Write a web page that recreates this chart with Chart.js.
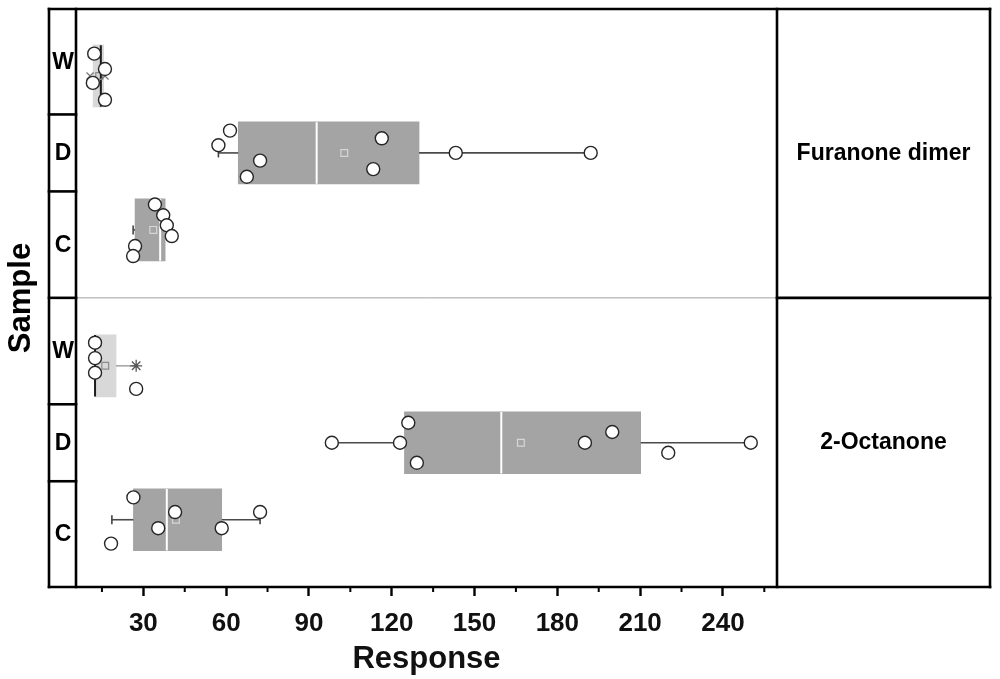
<!DOCTYPE html>
<html><head><meta charset="utf-8">
<script src="https://cdn.jsdelivr.net/npm/chart.js@4.4.0/dist/chart.umd.min.js"></script>
<style>html,body{margin:0;padding:0;background:#fff;}</style>
</head><body>
<canvas id="c" width="1000" height="679"></canvas>
<script>
const compounds = ['Furanone dimer', '2-Octanone'];
const samples = ['W', 'D', 'C'];
const xTickValues = [30, 60, 90, 120, 150, 180, 210, 240];
const xMinorTickValues = [15, 45, 75, 105, 135, 165, 195, 225, 255];
// group order: Furanone W, D, C, then 2-Octanone W, D, C
const boxQ1 = [11.8, 64.4, 27.0, 12.5, 124.6, 26.4];
const boxQ3 = [15.6, 129.9, 37.9, 20.1, 210.2, 58.4];
const boxMedian = [14.6, 92.8, 36.1, 12.5, 159.7, 38.5];
const boxMean = [14.0, 102.8, 33.6, 16.2, 166.8, 41.8];
const whiskerLow = [11.8, 57.2, 26.3, 12.5, 98.3, 18.6];
const whiskerHigh = [15.6, 192.1, 40.3, 27.4, 250.1, 72.3];
const extremeMarks = [[10.7, 16.1], [], [], [27.4], [], []];
const pointValues = [
  [12.2, 16.1, 11.7, 16.1],
  [61.4, 57.2, 72.3, 67.5, 116.4, 113.3, 143.2, 192.1],
  [34.2, 37.2, 38.5, 40.3, 27.0, 26.3],
  [12.5, 12.5, 12.5, 27.4],
  [98.3, 123.0, 126.0, 129.1, 190.0, 199.9, 220.2, 250.1],
  [26.4, 41.5, 35.4, 58.4, 72.3, 18.3]
];
const pointJitter = [
  [-0.29, -0.09, 0.09, 0.31],
  [-0.29, -0.10, 0.10, 0.31, -0.19, 0.21, 0, 0],
  [-0.33, -0.19, -0.06, 0.08, 0.21, 0.34],
  [-0.30, -0.10, 0.09, 0.30],
  [0, 0, -0.26, 0.26, 0, -0.14, 0.13, 0],
  [-0.29, -0.10, 0.11, 0.11, -0.10, 0.31]
];

const PANEL_OFFSET = 3.766;
const Y_MIN = -0.87, Y_MAX = 6.64;
const yPos = g => Math.floor(g / 3) * PANEL_OFFSET + (g % 3);
const isW = g => g % 3 === 0;
const groups = boxQ1.map((_, g) => g);
const sans = "'Liberation Sans',Arial,sans-serif";

const datasets = [];
// boxes
datasets.push({
  type: 'bar', indexAxis: 'y', order: 10,
  data: groups.map(g => ({x: [boxQ1[g], boxQ3[g]], y: yPos(g)})),
  backgroundColor: groups.map(g => isW(g) ? '#d8d8d8' : '#a4a4a4'),
  borderWidth: 0, barThickness: 62
});
// whiskers
groups.forEach(g => {
  const y = yPos(g);
  const col = isW(g) ? '#a8a8a8' : '#4a4a4a';
  [[whiskerLow[g], boxQ1[g]], [boxQ3[g], whiskerHigh[g]]].forEach(([a, b]) => {
    if (b - a > 0.01) datasets.push({type: 'line', order: 8, data: [{x: a, y}, {x: b, y}],
      borderColor: col, borderWidth: 1.6, pointRadius: 0, fill: false});
  });
});
// whisker caps
datasets.push({
  type: 'scatter', order: 7,
  data: groups.filter(g => !isW(g)).flatMap(g => [{x: whiskerLow[g], y: yPos(g)}, {x: whiskerHigh[g], y: yPos(g)}]),
  pointStyle: 'line', rotation: 90, radius: 4.5, borderColor: '#444', borderWidth: 1.6
});
// medians
groups.forEach(g => {
  const y = yPos(g);
  datasets.push({type: 'line', order: 6, data: [{x: boxMedian[g], y: y - 0.4}, {x: boxMedian[g], y: y + 0.4}],
    borderColor: isW(g) ? '#1c1c1c' : '#ffffff', borderWidth: 2, pointRadius: 0, fill: false});
});
// means
datasets.push({
  type: 'scatter', order: 5,
  data: groups.map(g => ({x: boxMean[g], y: yPos(g)})),
  pointStyle: 'rect', radius: 4.8, backgroundColor: 'rgba(0,0,0,0)',
  borderColor: groups.map(g => isW(g) ? '#8c8c8c' : '#d6d6d6'), borderWidth: 1.2
});
// extreme markers
datasets.push({
  type: 'scatter', order: 4,
  data: [0].flatMap(g => extremeMarks[g].map(v => ({x: v, y: yPos(g)}))),
  pointStyle: 'crossRot', radius: 5, borderColor: '#7a7a7a', borderWidth: 1.3
});
datasets.push({
  type: 'scatter', order: 4,
  data: [3].flatMap(g => extremeMarks[g].map(v => ({x: v, y: yPos(g)}))),
  pointStyle: 'star', radius: 6, borderColor: '#555', borderWidth: 1.3
});
// data points
datasets.push({
  type: 'scatter', order: 0,
  data: groups.flatMap(g => pointValues[g].map((v, i) => ({x: v, y: yPos(g) + pointJitter[g][i]}))),
  pointStyle: 'circle', radius: 6.5, backgroundColor: '#ffffff', borderColor: '#262626', borderWidth: 1.4
});

const framePlugin = {
  id: 'frame',
  beforeDatasetsDraw(chart) {
    const {ctx, chartArea: ca, scales: {y}} = chart;
    const yd = y.getPixelForValue((2 + PANEL_OFFSET) / 2);
    ctx.save();
    ctx.strokeStyle = '#a0a0a0'; ctx.lineWidth = 1;
    ctx.beginPath(); ctx.moveTo(ca.left, yd); ctx.lineTo(ca.right, yd); ctx.stroke();
    ctx.restore();
  },
  afterDraw(chart) {
    const {ctx, chartArea: ca, scales: {x, y}} = chart;
    const L = 49, R = 990;
    ctx.save();
    ctx.strokeStyle = '#000'; ctx.lineWidth = 2.6; ctx.lineCap = 'square';
    const line = (x1, y1, x2, y2) => { ctx.beginPath(); ctx.moveTo(x1, y1); ctx.lineTo(x2, y2); ctx.stroke(); };
    line(L, ca.top, R, ca.top);
    line(L, ca.bottom, R, ca.bottom);
    line(L, ca.top, L, ca.bottom);
    line(R, ca.top, R, ca.bottom);
    line(ca.left, ca.top, ca.left, ca.bottom);
    line(ca.right, ca.top, ca.right, ca.bottom);
    const yd = y.getPixelForValue((2 + PANEL_OFFSET) / 2);
    line(L, yd, ca.left, yd);
    line(ca.right, yd, R, yd);
    ctx.fillStyle = '#000';
    ctx.textAlign = 'center'; ctx.textBaseline = 'middle';
    [0, 1].forEach(p => {
      const base = p * PANEL_OFFSET;
      const top = p === 0 ? ca.top : yd, bot = p === 0 ? yd : ca.bottom;
      const bounds = [top, y.getPixelForValue(base + 0.5), y.getPixelForValue(base + 1.5), bot];
      line(L, bounds[1], ca.left, bounds[1]);
      line(L, bounds[2], ca.left, bounds[2]);
      ctx.font = "bold 23px " + sans;
      samples.forEach((s, i) => ctx.fillText(s, (L + ca.left) / 2 + 0.5, (bounds[i] + bounds[i + 1]) / 2 + 1));
      ctx.font = "bold 23px " + sans;
      ctx.fillText(compounds[p], (ca.right + R) / 2, (top + bot) / 2);
    });
    // minor ticks
    ctx.lineWidth = 2;
    ctx.lineCap = 'butt';
    xMinorTickValues.forEach(v => {
      if (v < x.min || v > x.max) return;
      const px = x.getPixelForValue(v);
      line(px, ca.bottom, px, ca.bottom + 5);
    });
    // y title
    ctx.save();
    ctx.translate(21, (ca.top + ca.bottom) / 2);
    ctx.rotate(-Math.PI / 2);
    ctx.font = "bold 31px " + sans;
    ctx.fillText('Sample', 0, 0);
    ctx.restore();
    ctx.restore();
  }
};

new Chart(document.getElementById('c'), {
  type: 'scatter',
  data: {datasets},
  options: {
    responsive: false, animation: false, devicePixelRatio: 1,
    layout: {padding: {left: 76, right: 223, top: 9, bottom: 0}},
    plugins: {legend: {display: false}, tooltip: {enabled: false}},
    events: [],
    scales: {
      x: {
        type: 'linear', min: 5.6, max: 259.6, offset: false,
        afterBuildTicks: s => { s.ticks = xTickValues.map(v => ({value: v})); },
        afterFit: s => { s.height = 92; },
        ticks: {autoSkip: false, maxRotation: 0, padding: 12, color: '#111',
          font: {family: sans, weight: 'bold', size: 26}},
        grid: {display: true, drawOnChartArea: false, drawTicks: true, tickLength: 9, tickWidth: 2.4, tickColor: '#000', color: '#000', offset: false},
        border: {display: false},
        title: {display: true, text: 'Response', color: '#111',
          font: {family: sans, weight: 'bold', size: 31}, padding: {top: 0, bottom: 1}}
      },
      y: {type: 'linear', min: Y_MIN, max: Y_MAX, reverse: true, display: false, offset: false, grid: {offset: false}}
    }
  },
  plugins: [framePlugin]
});
</script>
</body></html>
